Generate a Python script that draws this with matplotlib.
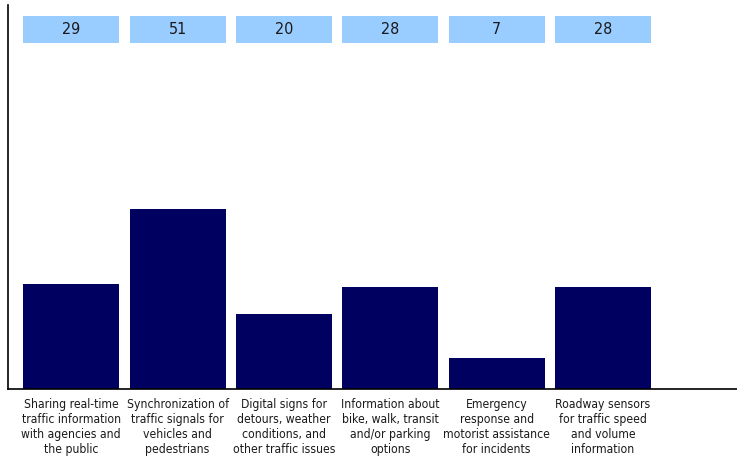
import matplotlib.pyplot as plt
import numpy as np

categories = [
    "Sharing real-time\ntraffic information\nwith agencies and\nthe public",
    "Synchronization of\ntraffic signals for\nvehicles and\npedestrians",
    "Digital signs for\ndetours, weather\nconditions, and\nother traffic issues",
    "Information about\nbike, walk, transit\nand/or parking\noptions",
    "Emergency\nresponse and\nmotorist assistance\nfor incidents",
    "Roadway sensors\nfor traffic speed\nand volume\ninformation",
]
values = [29, 51, 20, 28, 7, 28]

plt.rcParams['font.family'] = 'DejaVu Sans'
plt.rcParams['font.stretch'] = 'condensed'

fig = plt.figure(figsize=(7.37, 4.58), dpi=100)
ax = fig.add_axes([0.0109, 0.1507, 0.9891, 0.8383])

y_min, y_max = -2.05, 111.1
x = np.arange(len(values))
vals = np.array(values)

# bars run down to the floor of the axes
ax.bar(x, vals - y_min, bottom=y_min, width=0.9, color='#000060')

# value tags along the top
ax.bar(x, 8, bottom=100, width=0.9, color='#99ccff')
for xi, v in zip(x, values):
    ax.text(xi, 104, str(v), ha='center', va='center', fontsize=11.5,
            fontstretch='condensed', color='#1a1a1a')

ax.set_xlim(-0.595, 6.26)
ax.set_ylim(y_min, y_max)
ax.set_xticks(x)
ax.set_xticklabels(categories, fontsize=8.7, fontstretch='condensed',
                   color='#1a1a1a', linespacing=1.2)
ax.tick_params(axis='x', length=0, pad=6.5)
ax.set_yticks([])
for s in ['top', 'right']:
    ax.spines[s].set_visible(False)
ax.spines['left'].set_linewidth(1.2)
ax.spines['bottom'].set_linewidth(1.2)

fig.savefig('out.png', dpi=100)
